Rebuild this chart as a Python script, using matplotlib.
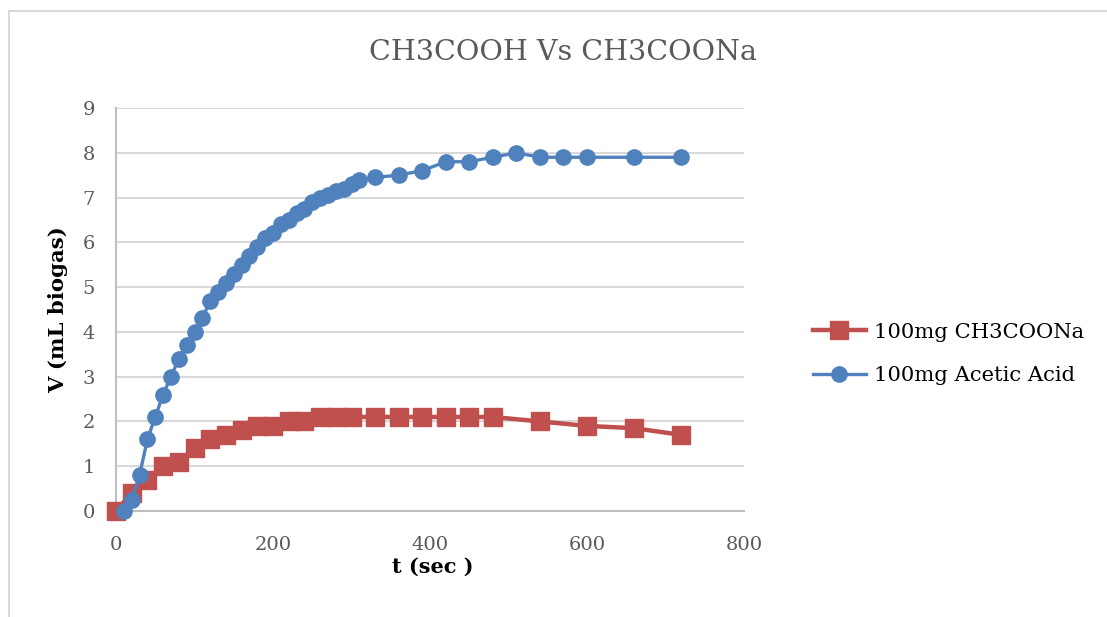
import matplotlib.pyplot as plt
from matplotlib.patches import Rectangle

# Daten
t_natrium = [0, 20, 40, 60, 80, 100, 120, 140, 160, 180, 200, 220, 240, 260, 280, 300,
             330, 360, 390, 420, 450, 480, 540, 600, 660, 720]
v_natrium = [0.0, 0.4, 0.7, 1.0, 1.1, 1.4, 1.6, 1.7, 1.8, 1.9, 1.9, 2.0, 2.0, 2.1, 2.1, 2.1,
             2.1, 2.1, 2.1, 2.1, 2.1, 2.1, 2.0, 1.9, 1.85, 1.7]

t_essig = [10, 20, 30, 40, 50, 60, 70, 80, 90, 100, 110, 120, 130, 140, 150, 160, 170, 180,
           190, 200, 210, 220, 230, 240, 250, 260, 270, 280, 290, 300, 310, 330, 360, 390,
           420, 450, 480, 510, 540, 570, 600, 660, 720]
v_essig = [0.0, 0.25, 0.8, 1.6, 2.1, 2.6, 3.0, 3.4, 3.7, 4.0, 4.3, 4.7, 4.9, 5.1, 5.3, 5.5, 5.7, 5.9,
           6.1, 6.2, 6.4, 6.5, 6.65, 6.75, 6.9, 7.0, 7.05, 7.15, 7.2, 7.3, 7.4, 7.45, 7.5, 7.6,
           7.8, 7.8, 7.9, 8.0, 7.9, 7.9, 7.9, 7.9, 7.9]

x_ticks = [0, 200, 400, 600, 800]
y_ticks = [0, 1, 2, 3, 4, 5, 6, 7, 8, 9]

ROT = "#C0504D"
BLAU = "#4F81BD"
GRAU = "#595959"

plt.rcParams["font.family"] = ["DejaVu Serif"]

fig = plt.figure(figsize=(11.07, 6.17), dpi=100)
ax = fig.add_axes([116 / 1107, 1 - 511 / 617, 628 / 1107, 403 / 617])

# Rahmen des Diagrammbereichs (rechts und unten ausserhalb des Bildes)
fig.patches.append(Rectangle((9 / 1107, -0.1), 1.2, 1 - 11 / 617 + 0.1, transform=fig.transFigure,
                             fill=False, edgecolor="#D9D9D9", linewidth=1.5))

ax.plot(t_natrium, v_natrium, color=ROT, linewidth=3.2, marker="s", markersize=13,
        label="100mg CH3COONa", clip_on=False, zorder=3)
ax.plot(t_essig, v_essig, color=BLAU, linewidth=2.4, marker="o", markersize=11,
        label="100mg Acetic Acid", clip_on=False, zorder=4)

ax.set_xlim(0, 800)
ax.set_ylim(0, 9)
ax.set_xticks(x_ticks)
ax.set_yticks(y_ticks)
ax.tick_params(length=0, labelsize=14, labelcolor=GRAU)
ax.tick_params(axis="x", pad=18)
ax.tick_params(axis="y", pad=15)
ax.grid(axis="y", color="#D9D9D9", linewidth=1.5)
ax.set_axisbelow(True)
for s in ["top", "right"]:
    ax.spines[s].set_visible(False)
for s in ["left", "bottom"]:
    ax.spines[s].set_color("#BFBFBF")
    ax.spines[s].set_linewidth(1.5)

fig.text(563 / 1107, 1 - 52 / 617, "CH3COOH Vs CH3COONa", fontsize=20.5, color=GRAU,
         ha="center", va="center")
fig.text(58 / 1107, 1 - 310 / 617, "V (mL biogas)", fontsize=15.3, fontweight="bold",
         rotation=90, ha="center", va="center")
fig.text(433 / 1107, 1 - 567 / 617, "t (sec )", fontsize=15, fontweight="bold",
         ha="center", va="center")

ax.legend(loc="center left", bbox_to_anchor=(794 / 1107, 1 - 354 / 617),
          bbox_transform=fig.transFigure, frameon=False, fontsize=15.2,
          handlelength=2.5, labelspacing=1.15, handletextpad=0.4)

plt.savefig("out.png", dpi=100)
plt.close()
